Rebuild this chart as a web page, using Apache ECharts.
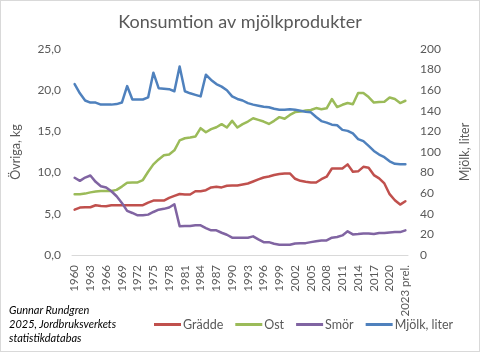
<!DOCTYPE html>
<html><head><meta charset="utf-8">
<script src="https://cdn.jsdelivr.net/npm/echarts@6/dist/echarts.min.js"></script>
<style>
html,body{margin:0;padding:0;background:#fff;}
#c{width:478px;height:350px;border:1px solid #d9d9d9;position:relative;}
#note{position:absolute;left:9px;top:303px;font-family:Lato,'Noto Sans',sans-serif;font-style:italic;font-size:11px;line-height:14px;color:#000;}
</style></head>
<body>
<div id="c"></div>
<script>
const categories = ['1960','1961','1962','1963','1964','1965','1966','1967','1968','1969',
'1970','1971','1972','1973','1974','1975','1976','1977','1978','1979',
'1980','1981','1982','1983','1984','1985','1986','1987','1988','1989',
'1990','1991','1992','1993','1994','1995','1996','1997','1998','1999',
'2000','2001','2002','2003','2004','2005','2006','2007','2008','2009',
'2010','2011','2012','2013','2014','2015','2016','2017','2018','2019',
'2020','2021','2022','2023 prel.'];

const gradde = [5.5,5.76,5.8,5.8,6.04,5.96,5.92,6.04,6.04,6.04,
6.04,6.04,6.04,6.04,6.36,6.6,6.6,6.6,6.93,7.17,
7.4,7.34,7.34,7.74,7.74,7.87,8.2,8.28,8.2,8.4,
8.44,8.44,8.56,8.68,8.92,9.17,9.41,9.53,9.7,9.82,
9.9,9.9,9.25,9.0,8.88,8.8,8.8,9.2,9.5,10.5,
10.5,10.5,11.0,10.1,10.15,10.7,10.6,9.7,9.3,8.68,
7.38,6.65,6.12,6.52];

const ost = [7.38,7.38,7.45,7.6,7.7,7.76,7.76,7.76,7.9,8.3,
8.76,8.8,8.8,9.1,10.1,11.0,11.6,12.1,12.2,12.7,
13.9,14.17,14.25,14.37,15.39,14.9,15.27,15.5,15.88,15.47,
16.28,15.47,15.88,16.2,16.6,16.4,16.2,15.9,16.28,16.73,
16.53,17.0,17.35,17.4,17.54,17.6,17.83,17.7,17.8,18.93,
17.95,18.23,18.44,18.3,19.66,19.66,19.17,18.5,18.56,18.6,
19.12,18.93,18.44,18.72];

const smor = [9.37,9.0,9.4,9.65,8.88,8.35,8.2,7.74,7.13,6.32,
5.35,5.1,4.82,4.82,4.9,5.22,5.5,5.6,5.76,6.16,
3.5,3.52,3.52,3.6,3.6,3.27,2.99,2.99,2.7,2.46,
2.1,2.1,2.1,2.1,2.26,1.89,1.56,1.56,1.36,1.24,
1.24,1.24,1.4,1.44,1.44,1.56,1.68,1.77,1.77,2.1,
2.18,2.38,2.87,2.5,2.54,2.62,2.62,2.54,2.66,2.66,
2.74,2.78,2.78,2.99];

const mjolk = [166,157,150,148,148,146,146,146,146.5,148,
164,151,151,151,153,177,162,161.5,161,159,
183,159,157,155.5,154,175,170,166,163.5,160,
154,151.5,150,147.5,146,145,144,143.5,142,141,
141,141.5,141,140,139,138.5,134,130,128.5,126.5,
126,121.5,120.5,118,112.5,110.5,106,101,97.5,95,
91,88.5,88,88];

const leftTicks = {min:0, max:25, interval:5};
const rightTicks = {min:0, max:200, interval:20};

const FONT = 'Lato, "Noto Sans", sans-serif';
const TXT = '#595959';
const chart = echarts.init(document.getElementById('c'), null, {renderer:'canvas'});
function line(name, data, color, axis){
  return {name, type:'line', data, yAxisIndex:axis, showSymbol:false, symbol:'none',
    lineStyle:{width:2.5, color, join:'round', cap:'round'}, itemStyle:{color}, animation:false};
}
chart.setOption({
  animation:false,
  title:{text:'Konsumtion av mjölkprodukter', left:'center', top:7,
    textStyle:{fontFamily:FONT, fontSize:18, fontWeight:'normal', color:TXT}},
  grid:{left:68, right:66, top:48, bottom:96, containLabel:false},
  legend:{bottom:15, left:148, itemWidth:27, itemHeight:3, itemGap:12,
    icon:'rect',
    textStyle:{fontFamily:FONT, fontSize:12.5, color:TXT, padding:[0,0,0,-3]},
    data:['Grädde','Ost','Smör','Mjölk, liter']},
  xAxis:{type:'category', data:categories, boundaryGap:true,
    axisLine:{lineStyle:{color:'#d9d9d9', width:1}}, axisTick:{show:false},
    axisLabel:{interval:2, rotate:90, fontFamily:FONT, fontSize:11.5, color:TXT, margin:10}},
  yAxis:[
    {type:'value', min:leftTicks.min, max:leftTicks.max, interval:leftTicks.interval,
     name:'Övriga, kg', nameLocation:'middle', nameRotate:90, nameGap:50,
     nameTextStyle:{fontFamily:FONT, fontSize:12.5, color:TXT},
     splitLine:{show:false}, axisLine:{show:false}, axisTick:{show:false},
     axisLabel:{fontFamily:FONT, fontSize:12, color:TXT, margin:11,
       formatter:v=>v.toFixed(1).replace('.',',')}},
    {type:'value', min:rightTicks.min, max:rightTicks.max, interval:rightTicks.interval,
     name:'Mjölk, liter', nameLocation:'middle', nameRotate:90, nameGap:50,
     nameTextStyle:{fontFamily:FONT, fontSize:12.5, color:TXT},
     splitLine:{show:false}, axisLine:{show:false}, axisTick:{show:false},
     axisLabel:{fontFamily:FONT, fontSize:12, color:TXT, margin:12}}
  ],
  series:[
    line('Grädde', gradde, '#C0504D', 0),
    line('Ost', ost, '#9BBB59', 0),
    line('Smör', smor, '#8064A2', 0),
    line('Mjölk, liter', mjolk, '#4F81BD', 1)
  ]
});
</script>
<div id="note">Gunnar Rundgren<br>2025, Jordbruksverkets<br>statistikdatabas</div>
</body></html>
